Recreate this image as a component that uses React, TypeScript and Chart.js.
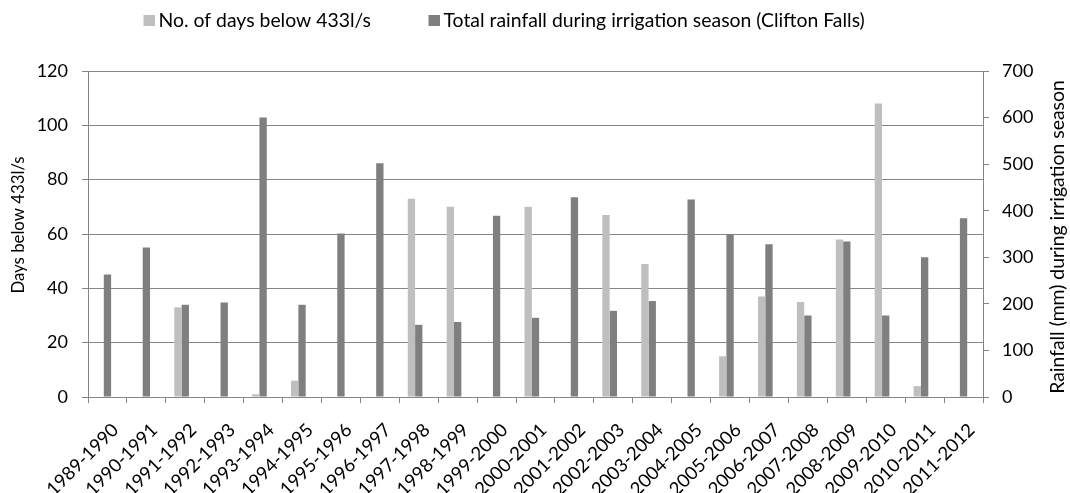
import React, { useEffect, useRef } from "react";
import { Chart, registerables } from "chart.js";

Chart.register(...registerables);

const categories = [
  "1989-1990", "1990-1991", "1991-1992", "1992-1993", "1993-1994", "1994-1995",
  "1995-1996", "1996-1997", "1997-1998", "1998-1999", "1999-2000", "2000-2001",
  "2001-2002", "2002-2003", "2003-2004", "2004-2005", "2005-2006", "2006-2007",
  "2007-2008", "2008-2009", "2009-2010", "2010-2011", "2011-2012",
];

const daysBelow = [0, 0, 33, 0, 1, 6, 0, 0, 73, 70, 0, 70, 0, 67, 49, 0, 15, 37, 35, 58, 108, 4, 0];

const rainfall = [263, 321, 198, 203, 600, 198, 351, 502, 155, 161, 389, 170, 429, 185, 206, 424, 350, 328, 175, 334, 175, 300, 384];

const daysLabel = "No. of days below 433l/s";
const rainLabel = "Total rainfall during irrigation season (Clifton Falls)";
const leftTitle = "Days below 433l/s";
const rightTitle = "Rainfall (mm) during irrigation season";

const FONT = "Lato, sans-serif";
const AXIS = "#868686";

// font size that makes `text` span `target` pixels
function fitSize(ctx: CanvasRenderingContext2D, text: string, target: number) {
  ctx.font = `20px ${FONT}`;
  const w = ctx.measureText(text).width;
  return Math.round(((20 * target) / w) * 10) / 10;
}

const legendPlugin = {
  id: "customLegend",
  afterDraw(chart: any) {
    const ctx = chart.ctx;
    const ds = chart.data.datasets.filter((d: any) => d.label !== "spacer");
    const boxX = [143.5, 428.5];
    ctx.save();
    const size = fitSize(ctx, ds[0].label, 213);
    ctx.font = `${size}px ${FONT}`;
    ctx.textBaseline = "alphabetic";
    ctx.textAlign = "left";
    ds.forEach((d: any, i: number) => {
      const x = boxX[i];
      ctx.fillStyle = d.backgroundColor;
      ctx.fillRect(x, 15, 11.5, 11);
      ctx.fillStyle = "#000";
      ctx.fillText(d.label, x + 15, 26.5);
    });
    ctx.restore();
  },
};

const axisTitlePlugin = {
  id: "axisTitles",
  afterDraw(chart: any) {
    const ctx = chart.ctx;
    const draw = (text: string, width: number, x: number, y: number) => {
      ctx.save();
      const size = fitSize(ctx, text, width);
      ctx.font = `${size}px ${FONT}`;
      ctx.fillStyle = "#000";
      ctx.textAlign = "center";
      ctx.textBaseline = "middle";
      ctx.translate(x, y);
      ctx.rotate(-Math.PI / 2);
      ctx.fillText(text, 0, 0);
      ctx.restore();
    };
    draw(leftTitle, 137, 18.5, 225);
    draw(rightTitle, 313, 1058, 237);
  },
};

export default function App() {
  const ref = useRef<HTMLCanvasElement>(null);
  useEffect(() => {
    if (!ref.current) return;
    const chart = new Chart(ref.current, {
      type: "bar",
      data: {
        labels: categories,
        datasets: [
          {
            label: daysLabel,
            data: daysBelow,
            backgroundColor: "#BFBFBF",
            yAxisID: "y",
            categoryPercentage: 0.565,
            barPercentage: 1,
          },
          {
            label: rainLabel,
            data: rainfall,
            backgroundColor: "#7F7F7F",
            yAxisID: "y1",
            categoryPercentage: 0.565,
            barPercentage: 1,
          },
          {
            label: "spacer",
            data: [],
            backgroundColor: "rgba(0,0,0,0)",
            yAxisID: "y",
            categoryPercentage: 0.565,
            barPercentage: 1,
          },
        ],
      },
      options: {
        responsive: false,
        animation: false,
        layout: { padding: { top: 71, left: 0, right: 0, bottom: 0 } },
        plugins: {
          legend: { display: false },
          tooltip: { enabled: false },
        },
        scales: {
          x: {
            offset: true,
            grid: {
              drawOnChartArea: false,
              drawTicks: true,
              tickLength: 6,
              color: AXIS,
              offset: true,
            },
            border: { color: AXIS },
            ticks: {
              autoSkip: false,
              maxRotation: 45,
              minRotation: 45,
              color: "#000",
              font: { family: FONT, size: 18.5 },
              padding: 16,
              labelOffset: 8,
            },
            afterFit: (s: any) => {
              s.height = 96;
              s.paddingLeft = 0;
              s.paddingRight = 0;
            },
          },
          y: {
            position: "left",
            min: 0,
            max: 120,
            ticks: {
              stepSize: 20,
              color: "#000",
              font: { family: FONT, size: 18 },
              padding: 14,
            },
            grid: { color: AXIS, tickLength: 6 },
            border: { color: AXIS },
            afterFit: (s: any) => {
              s.width = 88;
            },
          },
          y1: {
            position: "right",
            min: 0,
            max: 700,
            ticks: {
              stepSize: 100,
              color: "#000",
              font: { family: FONT, size: 18 },
              padding: 13,
            },
            grid: { drawOnChartArea: false, color: AXIS, tickLength: 6 },
            border: { color: AXIS },
            afterFit: (s: any) => {
              s.width = 87;
            },
          },
        },
      },
      plugins: [legendPlugin, axisTitlePlugin],
    });
    return () => chart.destroy();
  }, []);
  return (
    <canvas
      ref={ref}
      width={1070}
      height={493}
      style={{ position: "absolute", left: 0, top: 0, display: "block", background: "#fff" }}
    />
  );
}
